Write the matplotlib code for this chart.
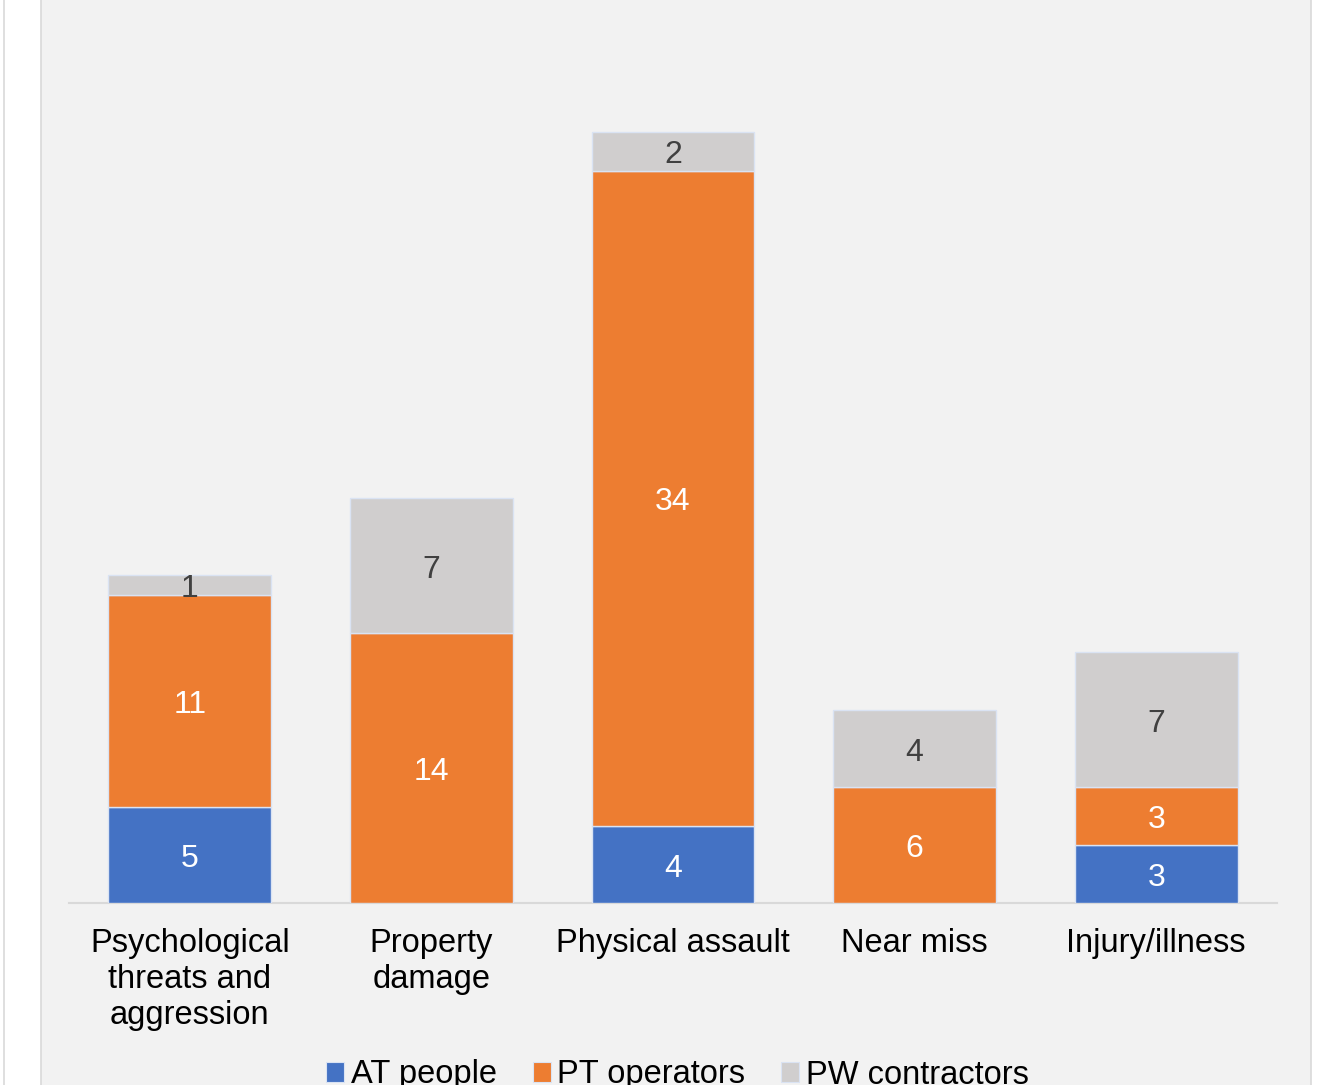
import numpy as np
import matplotlib
matplotlib.use('Agg')
import matplotlib.pyplot as plt
from matplotlib.patches import Patch, Rectangle
from matplotlib.lines import Line2D

# Data
categories = ['Psychological\nthreats and\naggression', 'Property\ndamage',
              'Physical assault', 'Near miss', 'Injury/illness']
at_people = [5, 0, 4, 0, 3]
pt_operators = [11, 14, 34, 6, 3]
pw_contractors = [1, 7, 2, 4, 7]
series_names = ['AT people', 'PT operators', 'PW contractors']

colors = ['#4472C4', '#ED7D31', '#D0CECE']
label_colors = ['white', 'white', '#404040']

plt.rcParams['font.family'] = ['Liberation Sans', 'DejaVu Sans']

W, H = 1318, 1085
fig = plt.figure(figsize=(W / 100, H / 100), dpi=100)
fig.patch.set_facecolor('white')

# chart area background and frame lines
fig.patches.append(Rectangle((40.5 / W, -0.01), (1311 - 40.5) / W, 1.02,
                             transform=fig.transFigure, facecolor='#F2F2F2',
                             edgecolor='#D9D9D9', linewidth=1.2, zorder=-5))
fig.lines.append(Line2D([3.5 / W, 3.5 / W], [0, 1], transform=fig.transFigure,
                        color='#D9D9D9', linewidth=1.2, zorder=-5))

px_per_unit = 771 / 40
ax = fig.add_axes([69 / W, 182 / H, 1208 / W, 903 / H])
ax.set_facecolor('none')

x = np.arange(len(categories))
bottom = np.zeros(len(categories))
for vals, name, c, lc in zip([at_people, pt_operators, pw_contractors],
                             series_names, colors, label_colors):
    vals = np.array(vals, dtype=float)
    ax.bar(x, vals, width=0.674, bottom=bottom, color=c,
           edgecolor='#DAE3F3', linewidth=1.0, zorder=3)
    for xi, b, v in zip(x, bottom, vals):
        if v > 0:
            ax.annotate(f'{int(v)}', (xi, b + v / 2), xytext=(0, -3),
                        textcoords='offset points', ha='center', va='center',
                        fontsize=23, color=lc, zorder=4)
    bottom += vals

ax.set_xlim(-0.5, 4.5)
ax.set_ylim(0, 903 / px_per_unit)
ax.set_yticks([])
ax.set_xticks(x)
ax.set_xticklabels(categories, fontsize=23.5, color='black', linespacing=1.2)
ax.tick_params(axis='x', length=0, pad=18)
for s in ['top', 'right', 'left']:
    ax.spines[s].set_visible(False)
ax.spines['bottom'].set_color('#D9D9D9')
ax.spines['bottom'].set_linewidth(1.5)

handles = [Patch(facecolor=c, edgecolor='#DAE3F3', linewidth=0.8) for c in colors]
fig.legend(handles, series_names, loc='center', ncol=3,
           bbox_to_anchor=(677.5 / W, 10 / H), frameon=False, fontsize=23.5,
           handlelength=0.55, handleheight=0.55, handletextpad=0.2,
           columnspacing=1.1)

fig.savefig('out.png', dpi=100, facecolor=fig.get_facecolor())
